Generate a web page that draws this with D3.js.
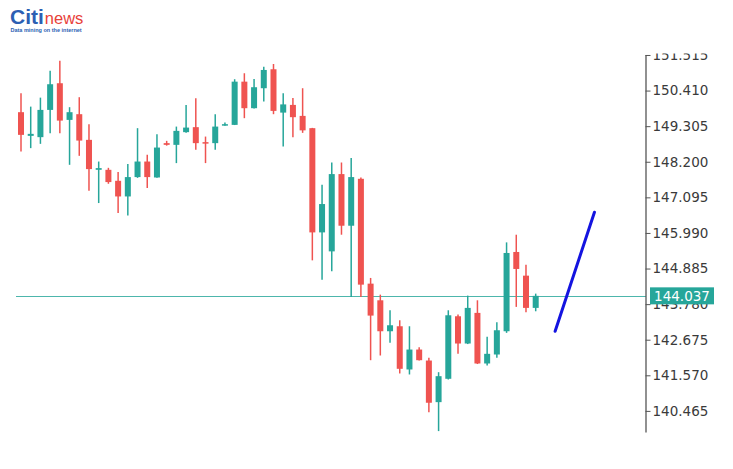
<!DOCTYPE html>
<html>
<head>
<meta charset="utf-8">
<script src="https://cdn.jsdelivr.net/npm/d3@7"></script>
<style>
  html, body { margin: 0; padding: 0; background: #ffffff; }
  svg { display: block; }
</style>
</head>
<body>
<svg id="chart" width="733" height="469"></svg>
<script>
// ---- data ----
const opens  = [149.739,149.004,148.964,149.810,150.638,149.500,149.677,148.880,147.950,147.950,
                147.609,147.123,147.724,148.207,147.712,148.778,148.725,149.119,149.274,148.809,
                148.778,149.323,149.345,150.687,149.863,150.483,151.072,149.726,149.965,149.624,
                149.243,146.007,145.418,147.817,146.214,147.671,144.416,143.899,142.938,143.093,
                141.751,142.370,142.029,140.737,141.462,143.403,142.557,143.508,141.937,142.216,
                142.938,145.399,144.664,143.663];
const highs  = [150.328,149.912,150.191,151.028,151.338,149.894,150.204,149.367,148.207,148.012,
                147.879,148.127,149.243,148.415,149.057,148.849,149.292,149.965,150.173,148.982,
                149.677,149.416,150.762,150.948,150.771,151.152,151.236,150.328,150.182,150.483,
                149.252,147.485,148.177,148.177,148.313,147.712,144.593,144.075,143.589,143.279,
                143.093,142.442,142.113,141.667,143.589,143.455,144.044,143.899,142.764,143.217,
                145.697,145.935,145.005,144.106];
const lows   = [148.517,148.623,148.756,149.088,149.088,148.105,148.384,147.299,146.918,147.516,
                146.608,146.534,147.700,147.383,147.700,148.700,148.158,149.100,148.570,148.158,
                148.570,149.320,149.340,149.553,149.850,150.067,149.677,148.672,148.964,149.097,
                145.139,144.540,144.798,145.935,144.004,144.004,142.039,142.185,142.578,141.627,
                141.596,142.030,140.427,139.838,141.440,142.237,142.540,141.920,141.875,142.113,
                142.888,143.694,143.527,143.558];
const closes = [149.035,149.066,149.810,150.607,149.478,149.739,148.858,147.972,148.003,147.569,
                147.123,147.724,148.207,147.724,148.641,148.725,149.159,149.261,148.778,148.765,
                149.292,149.367,150.687,149.863,150.514,151.050,149.779,149.981,149.584,149.175,
                146.007,146.887,147.817,146.214,147.724,144.385,143.424,142.938,143.124,141.772,
                142.370,142.039,140.718,141.543,143.434,142.557,143.663,141.937,142.237,142.969,
                145.368,144.872,143.663,144.037];
const tickValues = [151.515,150.410,149.305,148.200,147.095,145.990,144.885,143.780,142.675,141.570,140.465];
const lastPrice = 144.037;
const trendIndex = [55, 59.05];
const trendPrice = [142.938, 146.633];

// ---- setup ----
const svg = d3.select("#chart");
const upColor = "#26a69a", downColor = "#ef5350";

const x = d3.scaleLinear().domain([0, opens.length - 1]).range([21, 535.7]);
const y = d3.scaleLinear().domain([139.81, 151.53]).range([432, 54.5]);

const candles = opens.map((o, i) => ({ i, o, h: highs[i], l: lows[i], c: closes[i] }));

// horizontal last-price line
svg.append("line")
  .attr("x1", 16).attr("x2", 646)
  .attr("y1", Math.round(y(lastPrice)) + 0.5).attr("y2", Math.round(y(lastPrice)) + 0.5)
  .attr("stroke", "#4db6ac").attr("stroke-width", 1);

// candles
const g = svg.append("g");
const bodyW = 6;
g.selectAll("line.wick").data(candles).join("line")
  .attr("class", "wick")
  .attr("x1", d => x(d.i)).attr("x2", d => x(d.i))
  .attr("y1", d => y(d.h)).attr("y2", d => y(d.l))
  .attr("stroke", d => d.c >= d.o ? upColor : downColor)
  .attr("stroke-width", 1.5);

g.selectAll("rect.body").data(candles).join("rect")
  .attr("class", "body")
  .attr("x", d => x(d.i) - bodyW / 2)
  .attr("width", bodyW)
  .attr("y", d => y(Math.max(d.o, d.c)))
  .attr("height", d => Math.max(1.5, Math.abs(y(d.o) - y(d.c))))
  .attr("fill", d => d.c >= d.o ? upColor : downColor);

// trend line
svg.append("line")
  .attr("x1", x(trendIndex[0])).attr("y1", y(trendPrice[0]))
  .attr("x2", x(trendIndex[1])).attr("y2", y(trendPrice[1]))
  .attr("stroke", "#1414e0").attr("stroke-width", 3).attr("stroke-linecap", "round");

// axis (clipped at the top like the reference)
svg.append("defs").append("clipPath").attr("id", "axclip")
  .append("rect").attr("x", 600).attr("y", 53.5).attr("width", 133).attr("height", 415);

const axis = d3.axisRight(y).tickValues(tickValues).tickSize(5).tickSizeOuter(0)
  .tickFormat(d3.format(".3f")).tickPadding(2);
const axWrap = svg.append("g").attr("clip-path", "url(#axclip)");
const ax = axWrap.append("g")
  .attr("transform", "translate(645.5,0)")
  .call(axis);
ax.select(".domain").attr("stroke", "#555").attr("stroke-width", 1.3);
ax.selectAll(".tick line").attr("stroke", "#555");
ax.selectAll(".tick text")
  .attr("fill", "#3a3a3a")
  .style("font-family", "'DejaVu Sans', Verdana, sans-serif")
  .style("font-size", "13.5px");

// last price label
const ly = y(lastPrice);
svg.append("rect")
  .attr("x", 650).attr("y", ly - 8.5).attr("width", 64).attr("height", 17)
  .attr("fill", "#26a69a");
svg.append("text")
  .attr("x", 682).attr("y", ly).attr("dy", "0.36em")
  .attr("text-anchor", "middle")
  .attr("fill", "#ffffff")
  .style("font-family", "'DejaVu Sans', Verdana, sans-serif")
  .style("font-size", "13.5px")
  .text(lastPrice.toFixed(3));

// logo
const logo = svg.append("g");
const t1 = logo.append("text").attr("x", 10).attr("y", 24)
  .style("font-family", "'Liberation Sans', Arial, sans-serif");
t1.append("tspan").attr("fill", "#2c5fb3").attr("font-weight", "bold").attr("font-size", "21px").text("Citi");
t1.append("tspan").attr("fill", "#e8413a").attr("font-size", "16.5px").attr("dx", 1).text("news");
logo.append("text").attr("x", 10.5).attr("y", 32)
  .attr("fill", "#2c5fb3").attr("font-weight", "bold")
  .style("font-family", "'Liberation Sans', Arial, sans-serif")
  .style("font-size", "5.5px")
  .text("Data mining on the internet");
</script>
</body>
</html>
